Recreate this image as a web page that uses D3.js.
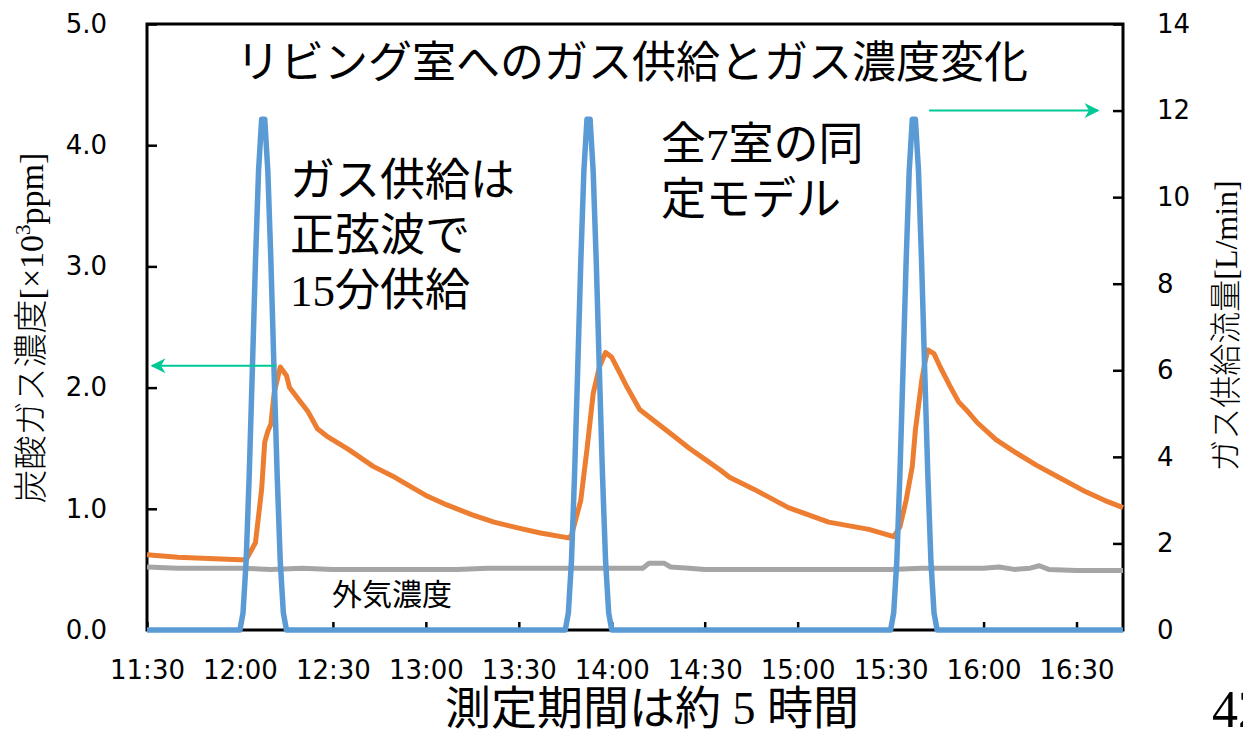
<!DOCTYPE html>
<html>
<head>
<meta charset="utf-8">
<script src="https://cdn.jsdelivr.net/npm/d3@7"></script>
<style>
  body { margin: 0; background: #fff; }
  svg { display: block; }
</style>
</head>
<body>
<div id="chart"></div>
<script>
// --- data ---
// CO2 concentration in the living room [x10^3 ppm] (left axis)
const co2Times = ["11:30","11:40","11:50","12:00","12:02","12:05","12:07","12:08","12:09","12:10","12:11","12:13","12:15","12:16","12:19","12:22","12:25","12:28","12:35","12:43","12:50","12:54","13:00","13:07","13:15","13:22","13:30","13:37","13:46","13:47","13:50","13:52","13:54","13:56","13:58","14:00","14:02","14:05","14:09","14:15","14:20","14:25","14:30","14:35","14:38","14:46","14:57","15:10","15:23","15:31","15:33","15:35","15:37","15:38","15:40","15:41","15:42","15:44","15:46","15:49","15:52","15:55","15:58","16:04","16:10","16:17","16:25","16:33","16:39","16:45"]
const co2Values = [0.62,0.60,0.59,0.58,0.58,0.72,1.16,1.55,1.64,1.70,1.95,2.17,2.10,2.00,1.90,1.80,1.66,1.60,1.49,1.35,1.26,1.20,1.11,1.03,0.95,0.89,0.84,0.80,0.76,0.78,1.07,1.49,1.95,2.17,2.29,2.25,2.15,2.00,1.82,1.70,1.60,1.50,1.41,1.32,1.26,1.16,1.01,0.89,0.83,0.77,0.85,1.07,1.35,1.65,2.05,2.20,2.31,2.28,2.17,2.02,1.88,1.80,1.71,1.57,1.47,1.36,1.25,1.14,1.07,1.01]

// outdoor concentration [x10^3 ppm] (left axis)
const outTimes = ["11:30","11:40","11:50","12:00","12:10","12:20","12:30","12:40","12:50","13:00","13:10","13:20","13:30","13:40","13:50","14:00","14:10","14:12","14:17","14:19","14:25","14:30","14:40","14:50","15:00","15:10","15:20","15:30","15:40","15:50","16:00","16:05","16:10","16:15","16:18","16:21","16:30","16:40","16:45"]
const outValues = [0.52,0.51,0.51,0.51,0.50,0.51,0.50,0.50,0.50,0.50,0.50,0.51,0.51,0.51,0.51,0.51,0.51,0.55,0.55,0.52,0.51,0.50,0.50,0.50,0.50,0.50,0.50,0.50,0.51,0.51,0.51,0.52,0.50,0.51,0.53,0.50,0.49,0.49,0.49]

// gas supply [L/min] (right axis): same 15 minute pulse, one value per minute
const pulseStarts = ["12:00","13:45","15:30"]
const pulseShape = [0,0.4,1.6,3.6,6.0,8.5,10.6,11.8,11.8,10.6,8.5,6.0,3.6,1.6,0.4,0]

const xTickLabels = ["11:30","12:00","12:30","13:00","13:30","14:00","14:30","15:00","15:30","16:00","16:30"]
const leftTicks = [0,1,2,3,4,5]
const rightTicks = [0,2,4,6,8,10,12,14]

const width = 1243
const height = 732
const margin = {top: 24, right: 120, bottom: 102, left: 147}

const parseTime = d3.timeParse("%H:%M")

let x = d3.scaleTime()
	.domain([parseTime("11:30"), parseTime("16:45")])
	.range([margin.left, width - margin.right])

let yL = d3.scaleLinear()
	.domain([0, 5])
	.range([height - margin.bottom, margin.top])

let yR = d3.scaleLinear()
	.domain([0, 14])
	.range([height - margin.bottom, margin.top])

// build gas supply series from the pulses
let gasData = [{t: parseTime("11:30"), v: 0}]
pulseStarts.forEach(function(s){
	let t0 = parseTime(s)
	pulseShape.forEach(function(v, i){
		gasData.push({t: d3.timeMinute.offset(t0, i), v: v})
	})
})
gasData.push({t: parseTime("16:45"), v: 0})

let co2Data = co2Times.map((t, i) => ({t: parseTime(t), v: co2Values[i]}))
let outData = outTimes.map((t, i) => ({t: parseTime(t), v: outValues[i]}))

const svg = d3.select('#chart')
	.append('svg')
	.attr('width', width)
	.attr('height', height)

const tickFont = '"DejaVu Sans", sans-serif'
const jpFont = '"Noto Sans CJK JP", sans-serif'
const mixFont = '"Liberation Serif", "Noto Sans CJK JP", serif'

// axes
let xAxis = d3.axisBottom(x)
	.tickValues(xTickLabels.map(parseTime))
	.tickFormat(d3.timeFormat("%H:%M"))
	.tickSizeInner(-8)
	.tickSizeOuter(0)
	.tickPadding(31)

let yAxisL = d3.axisLeft(yL)
	.tickValues(leftTicks)
	.tickFormat(d3.format(".1f"))
	.tickSizeInner(-10)
	.tickSizeOuter(0)
	.tickPadding(40)

let yAxisR = d3.axisRight(yR)
	.tickValues(rightTicks)
	.tickSizeInner(-10)
	.tickSizeOuter(0)
	.tickPadding(34)

let xG = svg.append('g')
	.attr('transform', `translate(0,${height - margin.bottom})`)
	.call(xAxis)

let lG = svg.append('g')
	.attr('transform', `translate(${margin.left},0)`)
	.call(yAxisL)

let rG = svg.append('g')
	.attr('transform', `translate(${width - margin.right},0)`)
	.call(yAxisR)

;[xG, lG, rG].forEach(function(g){
	g.select('.domain').remove()
	g.selectAll('line').attr('stroke', 'black').attr('stroke-width', 2.5)
	g.selectAll('text')
		.attr('fill', 'black')
		.attr('font-size', 26)
		.attr('font-family', tickFont)
})

// plot frame
svg.append('rect')
	.attr('x', margin.left)
	.attr('y', margin.top)
	.attr('width', width - margin.left - margin.right)
	.attr('height', height - margin.top - margin.bottom)
	.attr('fill', 'none')
	.attr('stroke', 'black')
	.attr('stroke-width', 3)

// series
let lineL = d3.line().x(d => x(d.t)).y(d => yL(d.v))
let lineR = d3.line().x(d => x(d.t)).y(d => yR(d.v))

svg.append('path')
	.datum(outData)
	.attr('d', lineL)
	.attr('fill', 'none')
	.attr('stroke', '#A5A5A5')
	.attr('stroke-width', 5)
	.attr('stroke-linejoin', 'round')

svg.append('path')
	.datum(co2Data)
	.attr('d', lineL)
	.attr('fill', 'none')
	.attr('stroke', '#ED7D31')
	.attr('stroke-width', 5)
	.attr('stroke-linejoin', 'round')

svg.append('path')
	.datum(gasData)
	.attr('d', lineR)
	.attr('fill', 'none')
	.attr('stroke', '#5B9BD5')
	.attr('stroke-width', 5.5)
	.attr('stroke-linejoin', 'round')

// arrows
svg.append('defs').append('marker')
	.attr('id', 'arrowhead')
	.attr('viewBox', '0 0 10 10')
	.attr('refX', 9)
	.attr('refY', 5)
	.attr('markerWidth', 16)
	.attr('markerHeight', 15)
	.attr('markerUnits', 'userSpaceOnUse')
	.attr('orient', 'auto')
	.append('path')
	.attr('d', 'M0,0 L10,5 L0,10 L3,5 Z')
	.attr('fill', '#00C896')

svg.append('line')
	.attr('x1', x(parseTime("12:14")) - 7)
	.attr('x2', margin.left + 5)
	.attr('y1', yL(2.18))
	.attr('y2', yL(2.18))
	.attr('stroke', '#00C896')
	.attr('stroke-width', 2)
	.attr('marker-end', 'url(#arrowhead)')

svg.append('line')
	.attr('x1', x(parseTime("15:45")) - 8)
	.attr('x2', width - margin.right - 25)
	.attr('y1', yR(12))
	.attr('y2', yR(12))
	.attr('stroke', '#00C896')
	.attr('stroke-width', 2)
	.attr('marker-end', 'url(#arrowhead)')

// texts
svg.append('text')
	.attr('x', 632)
	.attr('y', 78)
	.attr('text-anchor', 'middle')
	.attr('font-size', 44)
	.attr('font-family', jpFont)
	.text('リビング室へのガス供給とガス濃度変化')

let note1 = ['ガス供給は', '正弦波で', '15分供給']
note1.forEach(function(s, i){
	svg.append('text')
		.attr('x', 290)
		.attr('y', 196 + i * 55)
		.attr('font-size', 45)
		.attr('font-family', mixFont)
		.text(s)
})

let note2 = ['全7室の同', '定モデル']
note2.forEach(function(s, i){
	svg.append('text')
		.attr('x', 661)
		.attr('y', 160 + i * 55)
		.attr('font-size', 45)
		.attr('font-family', mixFont)
		.text(s)
})

svg.append('text')
	.attr('x', 332)
	.attr('y', 605)
	.attr('font-size', 30)
	.attr('font-family', jpFont)
	.text('外気濃度')

svg.append('text')
	.attr('x', 652)
	.attr('y', 724)
	.attr('text-anchor', 'middle')
	.attr('font-size', 46)
	.attr('font-family', mixFont)
	.text('測定期間は約 5 時間')

svg.append('text')
	.attr('x', 1212)
	.attr('y', 727)
	.attr('font-size', 52)
	.attr('font-family', mixFont)
	.text('42')

// axis titles
let leftTitle = svg.append('text')
	.attr('transform', 'translate(43,328) rotate(-90)')
	.attr('text-anchor', 'middle')
	.attr('font-size', 34)
	.attr('font-family', mixFont)
	.attr('font-weight', 300)
leftTitle.append('tspan').text('炭酸ガス濃度[×10')
leftTitle.append('tspan').attr('font-size', 21).attr('dy', -13).text('3')
leftTitle.append('tspan').attr('dy', 13).text('ppm]')

svg.append('text')
	.attr('transform', 'translate(1237,326) rotate(-90)')
	.attr('text-anchor', 'middle')
	.attr('font-size', 32)
	.attr('font-family', mixFont)
	.attr('font-weight', 300)
	.text('ガス供給流量[L/min]')
</script>
</body>
</html>
